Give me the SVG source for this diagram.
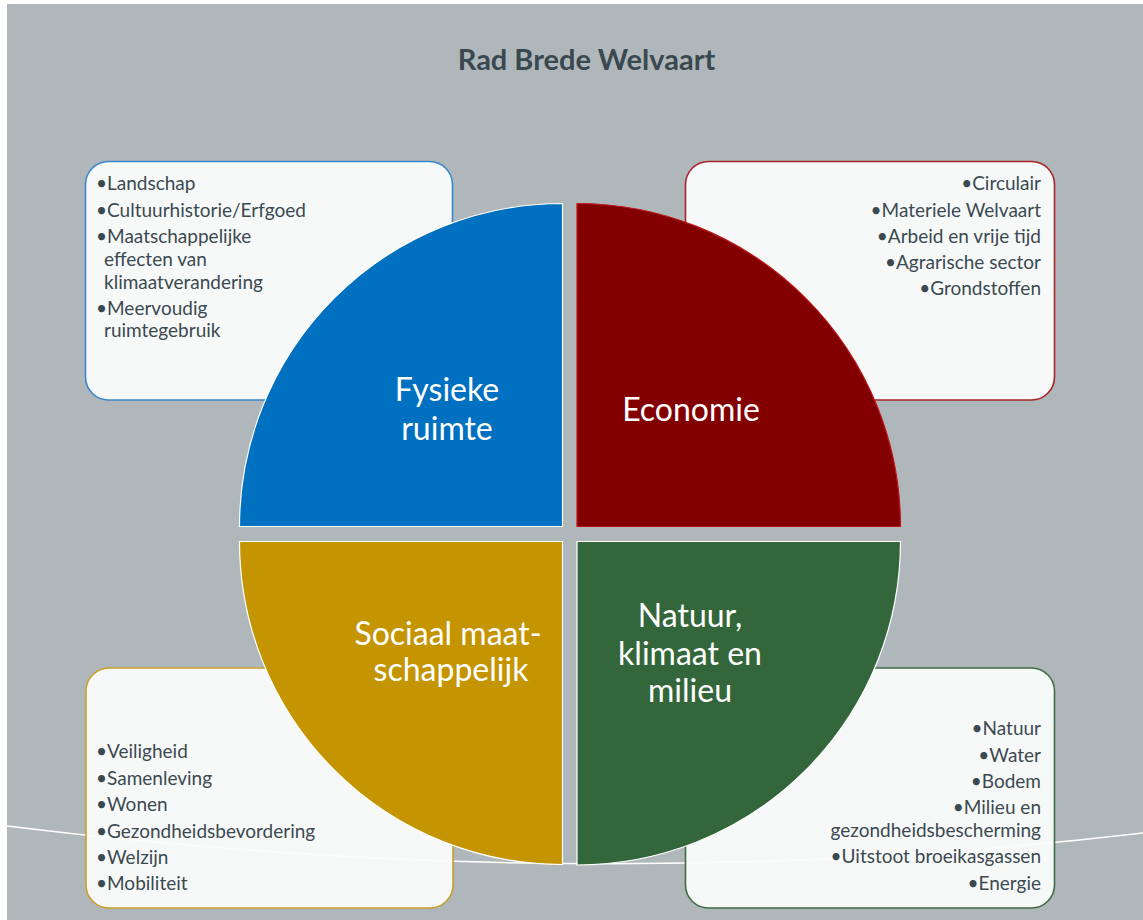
<svg xmlns="http://www.w3.org/2000/svg" width="1143" height="920" viewBox="0 0 1143 920">
<style>
.list{font-family:Lato,"Liberation Sans",sans-serif;font-size:19px;fill:#3B4950}
.r{text-anchor:end}
.lbl{font-family:Lato,"Liberation Sans",sans-serif;font-size:32px;fill:#FFFFFF;text-anchor:middle}
.title{font-family:Lato,"Liberation Sans",sans-serif;font-size:29px;font-weight:bold;fill:#3A4850;text-anchor:middle}
.box{fill:#FBFCFC;fill-opacity:0.95;stroke-width:1.6}
</style>
<rect x="0" y="0" width="1143" height="920" fill="#FFFFFF"/>
<rect x="7" y="4" width="1136" height="916" fill="#B0B7BA"/>
<text class="title" x="586.5" y="70">Rad Brede Welvaart</text>

<g id="connectors">
<path d="M7,826 Q590,898 1143,833" fill="none" stroke="#FFFFFF" stroke-width="1.5"/>
</g>

<g id="box-fysieke">
<rect class="box" x="85.5" y="161.5" width="367" height="238.5" rx="23" stroke="#3A86CC"/>
<text class="list" x="96" y="190">•Landschap</text>
<text class="list" x="96" y="216.5">•Cultuurhistorie/Erfgoed</text>
<text class="list" x="96" y="243">•Maatschappelijke</text>
<text class="list" x="104" y="265.5">effecten van</text>
<text class="list" x="104" y="288.5">klimaatverandering</text>
<text class="list" x="96" y="315">•Meervoudig</text>
<text class="list" x="104" y="337">ruimtegebruik</text>
</g>
<g id="box-economie">
<rect class="box" x="685.5" y="161.5" width="369" height="238.5" rx="23" stroke="#A82428"/>
<text class="list r" x="1041" y="190">•Circulair</text>
<text class="list r" x="1041" y="216.5">•Materiele Welvaart</text>
<text class="list r" x="1041" y="242.5">•Arbeid en vrije tijd</text>
<text class="list r" x="1041" y="268.5">•Agrarische sector</text>
<text class="list r" x="1041" y="295">•Grondstoffen</text>
</g>
<g id="box-sociaal">
<rect class="box" x="86" y="668" width="367" height="240" rx="23" stroke="#C9A12A"/>
<text class="list" x="96" y="758">•Veiligheid</text>
<text class="list" x="96" y="784.5">•Samenleving</text>
<text class="list" x="96" y="811">•Wonen</text>
<text class="list" x="96" y="837.5">•Gezondheidsbevordering</text>
<text class="list" x="96" y="864">•Welzijn</text>
<text class="list" x="96" y="890">•Mobiliteit</text>
</g>
<g id="box-natuur">
<rect class="box" x="685.5" y="668" width="369" height="240" rx="23" stroke="#3E6E44"/>
<text class="list r" x="1041" y="735">•Natuur</text>
<text class="list r" x="1041" y="761.5">•Water</text>
<text class="list r" x="1041" y="788">•Bodem</text>
<text class="list r" x="1041" y="814">•Milieu en</text>
<text class="list r" x="1041" y="836.5">gezondheidsbescherming</text>
<text class="list r" x="1041" y="863">•Uitstoot broeikasgassen</text>
<text class="list r" x="1041" y="889.5">•Energie</text>
</g>

<g id="node-fysieke">
<path d="M562.5,526.5 H239.5 A323,323 0 0 1 562.5,203.5 Z" fill="#0070C0" stroke="#FFFFFF" stroke-width="1.2"/>
<text class="lbl" x="447" y="401">Fysieke</text>
<text class="lbl" x="447" y="440">ruimte</text>
</g>
<g id="node-economie">
<path d="M577,526.5 V203.5 A323.5,323.5 0 0 1 900.5,526.5 Z" fill="#820000" stroke="#C0141C" stroke-width="1.2"/>
<text class="lbl" x="691" y="421">Economie</text>
</g>
<g id="node-sociaal">
<path d="M562.5,541.5 V864.5 A323,323 0 0 1 239.5,541.5 Z" fill="#C49500" stroke="#FFFFFF" stroke-width="1.2"/>
<text class="lbl" x="448" y="645">Sociaal maat-</text>
<text class="lbl" x="451" y="681">schappelijk</text>
</g>
<g id="node-natuur">
<path d="M577,541.5 H900.5 A323.5,323.5 0 0 1 577,865 Z" fill="#33673B" stroke="#FFFFFF" stroke-width="1.2"/>
<text class="lbl" x="690" y="627">Natuur,</text>
<text class="lbl" x="690" y="665">klimaat en</text>
<text class="lbl" x="690" y="702">milieu</text>
</g>
</svg>
